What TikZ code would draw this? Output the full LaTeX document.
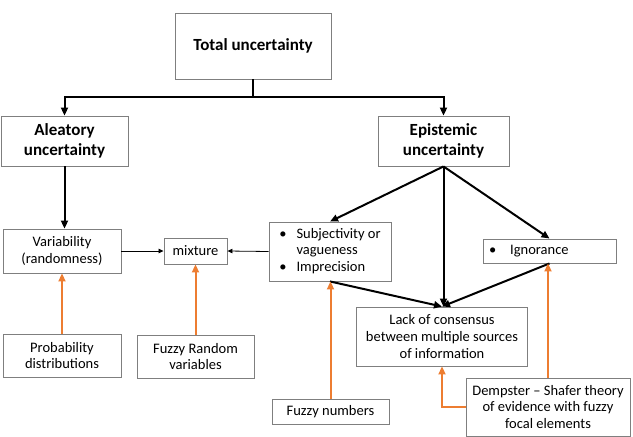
\documentclass[tikz,border=0pt]{standalone}
\usepackage{fontspec}
\setmainfont{Carlito}
\usetikzlibrary{arrows.meta,positioning,calc}
\definecolor{boxgray}{HTML}{7F7F7F}
\definecolor{orng}{HTML}{ED7D31}
\tikzset{
  box/.style={draw=boxgray, line width=0.9pt, fill=white, inner sep=0pt, align=center,
    font=\fontsize{14.5}{16.8}\selectfont},
  headbox/.style={box, font=\fontsize{17}{20}\selectfont\bfseries},
  bigarrow/.style={line width=2pt, -{Triangle[length=8pt,width=7pt]}},
  thinarrow/.style={line width=0.8pt, -{Triangle[length=5pt,width=4.5pt]}},
  orarrow/.style={draw=orng, line width=2pt, -{Triangle[length=8pt,width=7pt]}, color=orng},
}
\begin{document}
\begin{tikzpicture}[x=1pt,y=-1pt]
\useasboundingbox (0,0) rectangle (633,437);
\node[headbox, minimum width=156pt, minimum height=66pt] (total) at (253,46) {Total uncertainty};
\node[headbox, minimum width=127pt, minimum height=50pt] (alea) at (64.5,141) {Aleatory\\uncertainty};
\node[headbox, minimum width=131pt, minimum height=50pt] (epi) at (443.5,141) {Epistemic\\uncertainty};
\node[box, minimum width=118pt, minimum height=44pt] (var) at (62,251) {Variability\\(randomness)};
\node[box, minimum width=63pt, minimum height=26pt] (mix) at (195.5,251) {mixture};
\node[box, minimum width=122pt, minimum height=59pt] (subj) at (330,251.5)
  {\begin{tabular}{@{}l@{\hspace{10pt}}l@{}}\textbullet & Subjectivity or\\ & vagueness\\ \textbullet & Imprecision\end{tabular}};
\node[box, minimum width=133pt, minimum height=24pt, text width=121pt, inner xsep=6pt, align=left] (ign) at (549.5,251) {\textbullet\hspace{14pt}Ignorance};
\node[box, minimum width=171pt, minimum height=59pt] (lack) at (442,336.5) {Lack of consensus\\between multiple sources\\of information};
\node[box, minimum width=118pt, minimum height=43pt] (prob) at (62,355.5) {Probability\\distributions};
\node[box, minimum width=117pt, minimum height=43pt] (fzr) at (195.5,356.5) {Fuzzy Random\\variables};
\node[box, minimum width=117pt, minimum height=25pt] (fzn) at (330.5,411.5) {Fuzzy numbers};
\node[box, minimum width=164pt, minimum height=58pt] (demp) at (548,407) {Dempster -- Shafer theory\\of evidence with fuzzy\\focal elements};

\coordinate (split) at ($(total.south)+(0,18)$);
\draw[line width=2pt] (total.south) -- (split);
\draw[bigarrow] (split) -| (alea.north);
\draw[bigarrow] (split) -| (epi.north);
\draw[bigarrow] (alea.south) -- (alea.south |- var.north);
\draw[bigarrow] (epi.south) -- (subj.north);
\draw[bigarrow] (epi.south) -- (epi.south |- lack.north);
\draw[bigarrow] (epi.south) -- (ign.north);
\draw[bigarrow] (subj.south) -- (lack.north);
\draw[bigarrow] (ign.south) -- (lack.north);
\draw[thinarrow] (var.east) -- (mix.west);
\draw[thinarrow] (subj.west) -- (mix.east);
\draw[orarrow] (prob.north) -- (var.south);
\draw[orarrow] (fzr.north) -- (mix.south);
\draw[orarrow] (fzn.north) -- (fzn.north |- subj.south);
\draw[orarrow] (demp.north) -- (demp.north |- ign.south);
\draw[orarrow] (demp.west) -| (lack.south);
\end{tikzpicture}
\end{document}
